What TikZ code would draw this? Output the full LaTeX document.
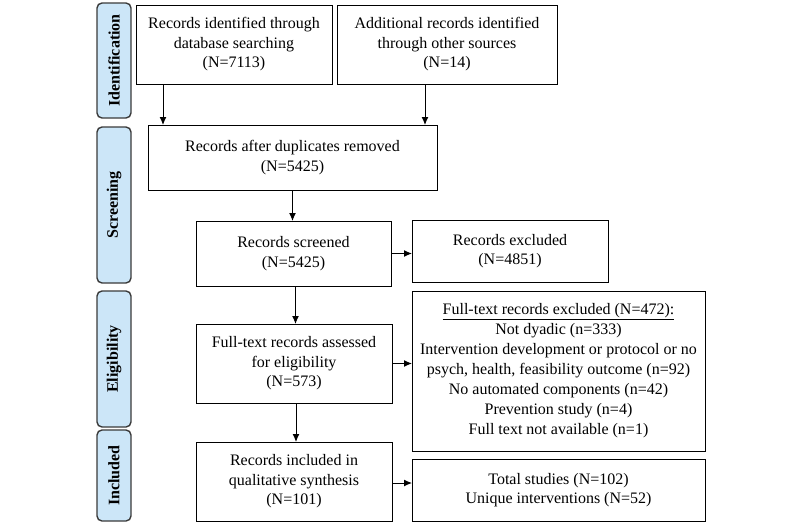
\documentclass[tikz,border=0pt]{standalone}
\usepackage{fontspec}
\setmainfont{Liberation Serif}
\usetikzlibrary{arrows.meta,calc}
\definecolor{sidefill}{HTML}{CCE6F8}
\definecolor{sideline}{HTML}{3A3A3A}
\begin{document}
\begin{tikzpicture}[x=1pt,y=-1pt,
  box/.style={draw=black,line width=1pt,inner sep=0pt,outer sep=0pt,align=center,
    font=\fontsize{16}{19.5}\selectfont},
  side/.style={draw=sideline,fill=sidefill,line width=1.4pt,rounded corners=5pt,inner sep=0pt,outer sep=0pt},
  sidetext/.style={rotate=90,font=\fontsize{16}{18}\selectfont\bfseries},
  arr/.style={-{Latex[length=8pt,width=7pt]},line width=1pt}]
\useasboundingbox (0,0) rectangle (800,525);
% sidebar stages
\node[side,minimum width=34pt,minimum height=115pt] (sIdent) at (114,60.5) {};
\node[sidetext] at (sIdent.center) {Identification};
\node[side,minimum width=34pt,minimum height=156pt] (sScreen) at (114,205) {};
\node[sidetext] at (sScreen.center) {Screening};
\node[side,minimum width=34pt,minimum height=136pt] (sElig) at (114,359) {};
\node[sidetext] at (sElig.center) {Eligibility};
\node[side,minimum width=34pt,minimum height=91pt] (sIncl) at (114,475.5) {};
\node[sidetext] at (sIncl.center) {Included};
% boxes
\node[box,minimum width=196pt,minimum height=79pt] (db) at (234,44.5)
  {Records identified through\\database searching\\(N=7113)};
\node[box,minimum width=220pt,minimum height=79pt] (other) at (447,44.5)
  {Additional records identified\\through other sources\\(N=14)};
\node[box,minimum width=289pt,minimum height=65pt] (dup) at (292.5,157.5)
  {Records after duplicates removed\\(N=5425)};
\node[box,minimum width=195pt,minimum height=65pt] (scr) at (293.5,253.5)
  {Records screened\\(N=5425)};
\node[box,minimum width=196pt,minimum height=62pt] (excl) at (510,251)
  {Records excluded\\(N=4851)};
\node[box,minimum width=196pt,minimum height=79pt] (full) at (294,363.5)
  {Full-text records assessed\\for eligibility\\(N=573)};
\node[box,minimum width=293pt,minimum height=160pt,font=\fontsize{16}{20}\selectfont] (fexcl) at (558.5,371)
  {\underline{Full-text records excluded (N=472):}\\Not dyadic (n=333)\\Intervention development or protocol or no\\psych, health, feasibility outcome (n=92)\\No automated components (n=42)\\Prevention study (n=4)\\Full text not available (n=1)};
\node[box,minimum width=196pt,minimum height=79pt] (incl) at (294,481.5)
  {Records included in\\qualitative synthesis\\(N=101)};
\node[box,minimum width=293pt,minimum height=62pt] (total) at (558.5,490)
  {Total studies (N=102)\\Unique interventions (N=52)};
% arrows
\draw[arr] ([xshift=27pt]db.south west) -- ([xshift=27pt]db.south west |- dup.north);
\draw[arr] ([xshift=88pt]other.south west) -- ([xshift=88pt]other.south west |- dup.north);
\draw[arr] (dup.south) -- (dup.south |- scr.north);
\draw[arr] ([xshift=2pt]scr.south) -- ([xshift=2pt]scr.south |- full.north);
\draw[arr] ([xshift=2pt]full.south) -- ([xshift=2pt]full.south |- incl.north);
\draw[arr] (scr.east) -- (scr.east -| excl.west);
\draw[arr] (full.east) -- (full.east -| fexcl.west);
\draw[arr] ([yshift=-1.5pt]incl.east) -- ([yshift=-1.5pt]incl.east -| total.west);
\end{tikzpicture}
\end{document}
